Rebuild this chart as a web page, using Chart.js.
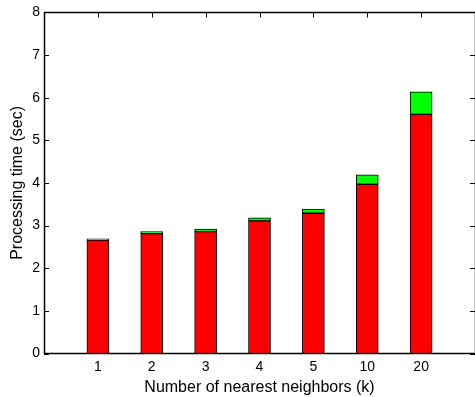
<!DOCTYPE html>
<html>
<head>
<meta charset="utf-8">
<script src="https://cdn.jsdelivr.net/npm/chart.js@4/dist/chart.umd.min.js"></script>
<style>
  html, body { margin: 0; padding: 0; background: #fff; overflow: hidden; }
  #wrap { width: 475px; height: 397px; overflow: hidden; }
  canvas { display: block; }
</style>
</head>
<body>
<div id="wrap"><canvas id="c" width="480" height="397"></canvas></div>
<script>
// Number of nearest neighbors k and the processing time split into two parts
const categories = ['1', '2', '3', '4', '5', '10', '20'];
const baseTime  = [2.66, 2.81, 2.86, 3.11, 3.29, 3.97, 5.61];
const extraTime = [0.03, 0.05, 0.06, 0.07, 0.10, 0.22, 0.53];
const yTicks = [0, 1, 2, 3, 4, 5, 6, 7, 8];

// Pad the category axis with an empty slot on each side (box axes from 0 to 8)
const labels = ['', ...categories, ''];
const pad = arr => [null, ...arr, null];

const FONT = 'Liberation Sans, Arial, Helvetica, sans-serif';

// Box around the plot with inward tick marks on all four sides
const boxAxes = {
  id: 'boxAxes',
  beforeDatasetsDraw(chart) {
    const { ctx, chartArea: a, scales: { x, y } } = chart;
    const L = 5;
    ctx.save();
    ctx.strokeStyle = '#000';
    ctx.lineWidth = 1;
    ctx.beginPath();
    yTicks.forEach(v => {
      const py = Math.round(y.getPixelForValue(v)) + 0.5;
      ctx.moveTo(a.left, py); ctx.lineTo(a.left + L, py);
      ctx.moveTo(a.right, py); ctx.lineTo(a.right - L, py);
    });
    categories.forEach((c, i) => {
      const px = Math.round(x.getPixelForValue(i + 1)) + 0.5;
      ctx.moveTo(px, a.top); ctx.lineTo(px, a.top + L);
      ctx.moveTo(px, a.bottom); ctx.lineTo(px, a.bottom - L);
    });
    ctx.stroke();
    ctx.lineWidth = 1.5;
    ctx.strokeRect(Math.round(a.left) + 0.5, Math.round(a.top) + 0.5,
                   Math.round(a.right - a.left), Math.round(a.bottom - a.top));
    ctx.restore();
  }
};

new Chart(document.getElementById('c'), {
  type: 'bar',
  data: {
    labels,
    datasets: [
      {
        data: pad(baseTime),
        backgroundColor: '#ff0000',
        borderColor: '#000',
        borderWidth: 1,
        borderSkipped: false
      },
      {
        data: pad(extraTime),
        backgroundColor: '#00ff00',
        borderColor: '#000',
        borderWidth: 1,
        borderSkipped: false
      }
    ]
  },
  options: {
    responsive: false,
    animation: false,
    events: [],
    datasets: { bar: { barThickness: 22 } },
    layout: { padding: { top: 12, right: 1, left: 0, bottom: 0 } },
    plugins: { legend: { display: false }, tooltip: { enabled: false } },
    scales: {
      x: {
        stacked: true,
        offset: false,
        grid: { display: false, drawTicks: false },
        border: { display: false },
        ticks: {
          color: '#000',
          font: { family: FONT, size: 14 },
          padding: 5,
          maxRotation: 0,
          autoSkip: false
        },
        title: {
          display: true,
          text: 'Number of nearest neighbors (k)',
          color: '#000',
          font: { family: FONT, size: 16 },
          padding: { top: 0, bottom: 0 }
        },
        afterFit(s) { s.height = 43.5; }
      },
      y: {
        stacked: true,
        min: 0,
        max: 8,
        grid: { display: false, drawTicks: false },
        border: { display: false },
        ticks: {
          stepSize: 1,
          color: '#000',
          font: { family: FONT, size: 14 },
          padding: 4
        },
        title: {
          display: true,
          text: 'Processing time (sec)',
          color: '#000',
          font: { family: FONT, size: 16 },
          padding: { top: 8, bottom: 0 }
        },
        afterFit(s) { s.width = 44; }
      }
    }
  },
  plugins: [boxAxes]
});
</script>
</body>
</html>
